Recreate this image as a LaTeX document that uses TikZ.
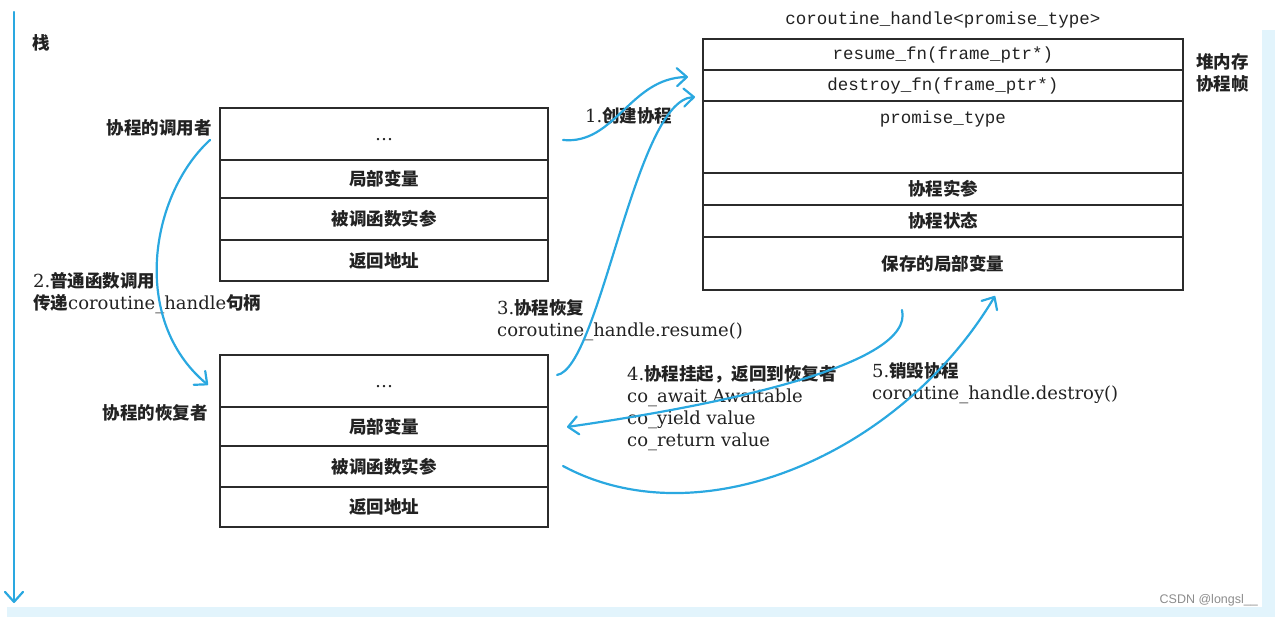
\documentclass[tikz,border=0pt]{standalone}
\usepackage{fontspec}
\usetikzlibrary{arrows.meta,calc}
\newfontfamily\cjk{Noto Sans CJK SC}
\newfontfamily\lat{DejaVu Serif}
\newfontfamily\mono{Liberation Mono}
\newfontfamily\wm{Liberation Sans}
\definecolor{boxc}{HTML}{2B2B2B}
\definecolor{txt}{HTML}{222222}
\definecolor{arr}{HTML}{2AA8E0}
\definecolor{band}{HTML}{E2F4FC}
\tikzset{
  cell/.style={draw=boxc, line width=2pt, inner sep=0pt, text=txt,
    font=\cjk\bfseries\fontsize{17.5}{20}\selectfont},
  lcell/.style={cell, minimum width=328},
  fcell/.style={cell, minimum width=480},
  lbl/.style={inner sep=0pt, text=txt, align=left,
    font=\cjk\bfseries\fontsize{17.5}{22}\selectfont},
  monot/.style={inner sep=0pt, text=txt, font=\mono\fontsize{17.5}{20}\selectfont},
  flow/.style={draw=arr, line width=2.2pt, line cap=round,
    -{Straight Barb[length=10pt,width=18pt,line width=2.2pt,round]}}
}
\newcommand{\lt}[1]{{\lat\mdseries\fontsize{18}{22}\selectfont #1}}
\newcommand{\dotsdown}{\raisebox{-7pt}[0pt][0pt]{\lt{…}}}
\begin{document}
\begin{tikzpicture}[x=1pt,y=-1pt]
\useasboundingbox (0,0) rectangle (1275,617);
\fill[band] (1262,30) rectangle (1275,617);
\fill[band] (7,607) rectangle (1275,617);

% stack axis
\coordinate (stop) at (14,12);
\coordinate (sbot) at (14,603);
\draw[flow] (stop) -- (sbot);
\node[lbl, anchor=west] (stack) at (32,43) {栈};

% caller frame
\node[lcell, minimum height=52] (c1) at (384,134) {\dotsdown};
\node[lcell, minimum height=38] (c2) at (384,179) {局部变量};
\node[lcell, minimum height=42] (c3) at (384,219) {被调函数实参};
\node[lcell, minimum height=41] (c4) at (384,260.5) {返回地址};
\node[lbl, anchor=east] (caller) at (212,128) {协程的调用者};

% resumer frame
\node[lcell, minimum height=52] (r1) at (384,381) {\dotsdown};
\node[lcell, minimum height=39] (r2) at (384,426.5) {局部变量};
\node[lcell, minimum height=41] (r3) at (384,466.5) {被调函数实参};
\node[lcell, minimum height=40] (r4) at (384,507) {返回地址};
\node[lbl, anchor=east] (resumer) at (208,413) {协程的恢复者};

% coroutine frame
\node[monot] (handle) at (943,20) {coroutine\_handle<promise\_type>};
\node[fcell, minimum height=31, font=\mono\fontsize{17.5}{20}\selectfont] (f1) at (943,54.5) {resume\_fn(frame\_ptr*)};
\node[fcell, minimum height=31, font=\mono\fontsize{17.5}{20}\selectfont] (f2) at (943,85.5) {destroy\_fn(frame\_ptr*)};
\node[fcell, minimum height=72] (f3) at (943,137) {};
\node[monot] (ptype) at (943,119) {promise\_type};
\node[fcell, minimum height=32] (f4) at (943,189) {协程实参};
\node[fcell, minimum height=32] (f5) at (943,221) {协程状态};
\node[fcell, minimum height=53] (f6) at (943,263.5) {保存的局部变量};
\node[lbl, anchor=west] (heap) at (1196,73) {堆内存\\协程帧};

% labels
\node[lbl, anchor=west] (l1) at (585,116) {\lt{1.}创建协程};
\node[lbl, anchor=west] (l2) at (33,293) {\lt{2.}普通函数调用\\传递\lt{coroutine\_handle}句柄};
\node[lbl, anchor=west] (l3) at (497,320) {\lt{3.}协程恢复\\\lt{coroutine\_handle.resume()}};
\node[lbl, anchor=west] (l4) at (627,408.5) {\lt{4.}协程挂起，返回到恢复者\\\lt{co\_await Awaitable}\\\lt{co\_yield value}\\\lt{co\_return value}};
\node[lbl, anchor=west] (l5) at (872,383.5) {\lt{5.}销毁协程\\\lt{coroutine\_handle.destroy()}};
\node[inner sep=0pt, text=black!45, font=\wm\fontsize{12.5}{14}\selectfont, anchor=east] (wm) at (1258,600) {CSDN @longsl\_\_};

% arrow end points
\coordinate (a1s) at (563,140);
\coordinate (a1e) at (688,77);
\coordinate (a2s) at (210,140);
\coordinate (a2e) at (208,385);
\coordinate (a3s) at (557,375);
\coordinate (a3e) at (695,97);
\coordinate (a4s) at (902,310);
\coordinate (a4e) at (567,427);
\coordinate (a5s) at (563,466);
\coordinate (a5e) at (995,296);

\draw[flow] (a1s) .. controls (615,145) and (630,78) .. (a1e);
\draw[flow] (a2s) .. controls (150,195) and (130,320) .. (a2e);
\draw[flow] (a3s) .. controls (600,368) and (635,100) .. (a3e);
\draw[flow] (a4s) .. controls (915,365) and (720,405) .. (a4e);
\draw[flow] (a5s) .. controls (700,540) and (900,455) .. (a5e);
\end{tikzpicture}
\end{document}
